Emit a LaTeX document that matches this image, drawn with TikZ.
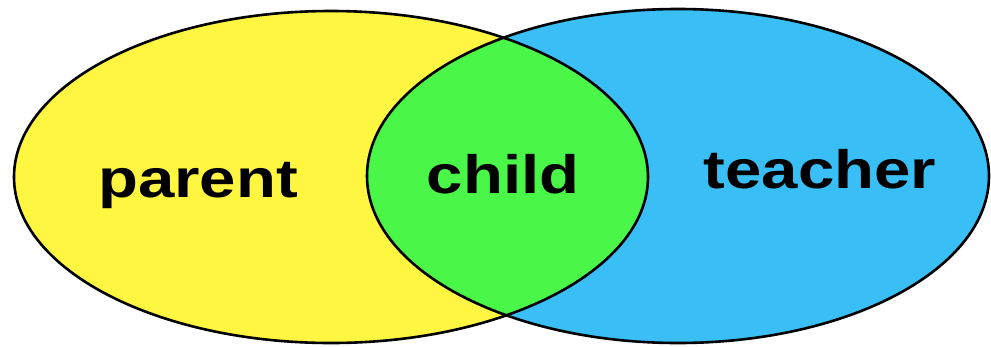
\documentclass[tikz,border=0pt]{standalone}
\usepackage{fontspec}
\usepackage{graphicx}
\setmainfont{Liberation Sans}
\definecolor{vyellow}{RGB}{255,246,66}
\definecolor{vgreen}{RGB}{74,246,72}
\definecolor{vblue}{RGB}{58,190,246}
\tikzset{
  outline/.style={draw=black, line width=2.6pt},
  lbl/.style={anchor=base, inner sep=0pt, font=\bfseries\fontsize{54}{60}\selectfont, text=black},
}
\newcommand{\wide}[1]{\scalebox{1.21}[1]{#1}}
\begin{document}
\begin{tikzpicture}[x=1pt,y=-1pt]
\useasboundingbox (0,0) rectangle (991,346);
\fill[white] (0,0) rectangle (991,346);
\def\leftell{(331,177) ellipse [x radius=317pt, y radius=166pt]}
\def\rightell{(678,176) ellipse [x radius=311pt, y radius=167pt]}
\fill[vyellow] \leftell;
\fill[vblue] \rightell;
\begin{scope}
  \clip \leftell;
  \fill[vgreen] \rightell;
\end{scope}
\draw[outline] \leftell;
\draw[outline] \rightell;
\node[lbl] (parent) at (198,197) {\wide{parent}};
\node[lbl] (child) at (503,193) {\wide{child}};
\node[lbl] (teacher) at (820,188) {\wide{teacher}};
\end{tikzpicture}
\end{document}
